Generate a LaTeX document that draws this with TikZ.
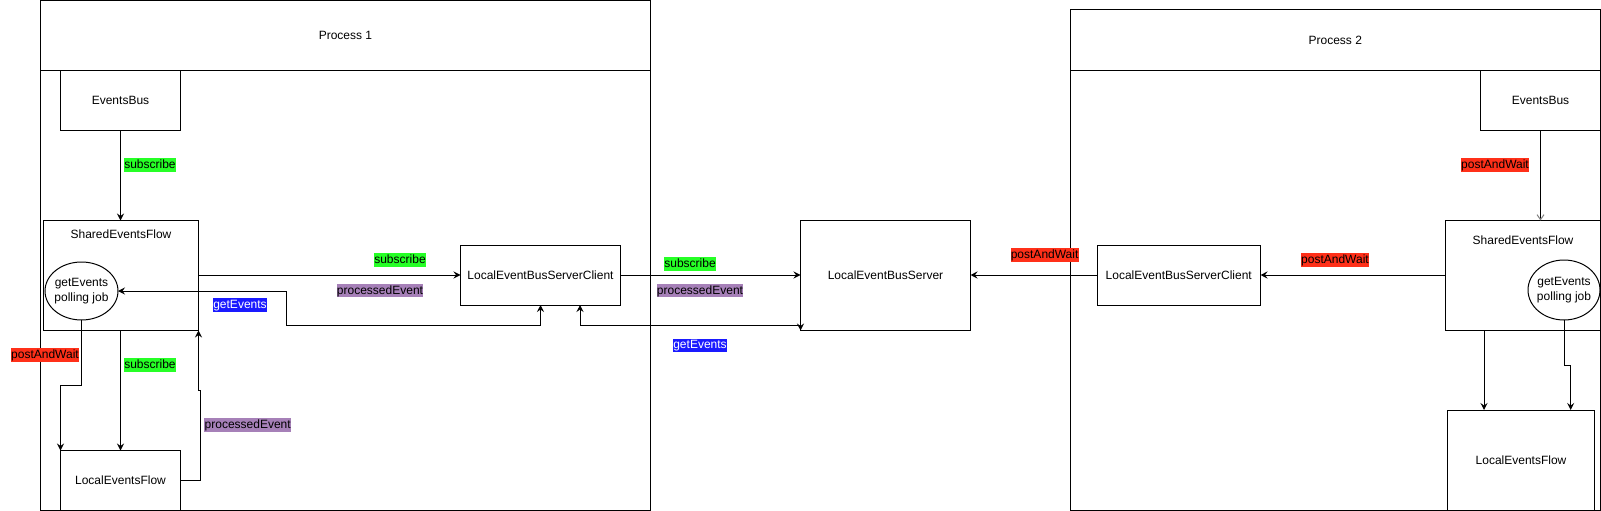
\documentclass[tikz,border=0pt]{standalone}
\usepackage{fontspec}
\setmainfont{Liberation Sans}
\usetikzlibrary{arrows.meta, positioning, shapes.geometric}

\definecolor{subgreen}{RGB}{38,255,38}
\definecolor{postred}{RGB}{255,48,25}
\definecolor{procpurple}{RGB}{166,128,184}
\definecolor{getblue}{RGB}{26,26,255}

\tikzset{
  box/.style={draw, line width=1pt, outer sep=0pt, inner sep=0pt, font=\fontsize{12}{14}\selectfont},
  jobtext/.style={align=center, inner sep=0pt, font=\fontsize{12}{15.5}\selectfont},
  lbl/.style={font=\fontsize{12}{14}\selectfont, inner xsep=0.3pt, inner ysep=0.5pt, text height=9.5pt, text depth=2.8pt},
  sub/.style={lbl, fill=subgreen},
  post/.style={lbl, fill=postred},
  proc/.style={lbl, fill=procpurple},
  get/.style={lbl, fill=getblue, text=white},
  conn/.style={line width=1pt, ->},
}

\begin{document}
\begin{tikzpicture}[x=1pt, y=-1pt, >={Stealth[length=7pt,width=7pt,inset=2.5pt]}]
\useasboundingbox (0,0) rectangle (1601,511);

% process 1
\node[box, minimum width=610pt, minimum height=70pt] (p1head) at (345.5,35.5) {Process 1};
\node[box, minimum width=610pt, minimum height=439.5pt, below=0pt of p1head] (p1body) {};

\node[box, minimum width=120pt, minimum height=60pt] (eb1) at (120.5,100.5) {EventsBus};
\node[box, minimum width=155pt, minimum height=110pt,
      label={[anchor=north, yshift=-6pt, font=\fontsize{12}{14}\selectfont]north:SharedEventsFlow}] (sef1) at (121,275.5) {};
\node[draw, ellipse, line width=1pt, outer sep=0pt, minimum width=73pt, minimum height=58pt] (job1) at (81.5,291) {};
\node[jobtext] (job1txt) at (job1) {getEvents\\polling job};
\node[box, minimum width=120pt, minimum height=59.5pt] (lef1) at (120.5,480.25) {LocalEventsFlow};
\node[box, minimum width=160pt, minimum height=60pt] (cl1) at (540.5,275) {LocalEventBusServerClient};

% server in the middle
\node[box, minimum width=170pt, minimum height=110pt] (srv) at (885.5,275.5) {LocalEventBusServer};

% process 2
\node[box, minimum width=529.5pt, minimum height=60.5pt] (p2head) at (1335.25,40.25) {Process 2};
\node[box, minimum width=529.5pt, minimum height=439.5pt, below=0pt of p2head] (p2body) {};

\node[box, minimum width=120pt, minimum height=60pt] (eb2) at (1540.5,100.5) {EventsBus};
\node[box, minimum width=155pt, minimum height=110pt,
      label={[anchor=north, yshift=-12pt, font=\fontsize{12}{14}\selectfont]north:SharedEventsFlow}] (sef2) at (1523,275.5) {};
\node[draw, ellipse, line width=1pt, outer sep=0pt, minimum width=72pt, minimum height=60pt] (job2) at (1564,290) {};
\node[jobtext] (job2txt) at (job2) {getEvents\\polling job};
\node[box, minimum width=147pt, minimum height=100pt] (lef2) at (1521,460) {LocalEventsFlow};
\node[box, minimum width=163.5pt, minimum height=60pt] (cl2) at (1178.75,275) {LocalEventBusServerClient};

% connectors, process 1
\draw[conn] (eb1.south) -- (eb1.south |- sef1.north);
\draw[conn] (sef1.south -| lef1.north) -- (lef1.north);
\draw[conn] (job1.south) -- ++(0,65) -| (lef1.north west);
\draw[conn] (lef1.east) -| ++(19.5,-89.3) -| (sef1.south east);
\draw[conn] (sef1.east |- cl1.west) -- (cl1.west);
\draw[conn, <->] (job1.east) -| ++(168,34) -| (cl1.south);

% connectors to and from the server
\draw[conn] (cl1.east) -- (srv.west |- cl1.east);
\draw[conn, <->] ([xshift=39.5pt]cl1.south) -- ++(0,20) -| (srv.south west);
\draw[conn] (cl2.west) -- (srv.east |- cl2.west);

% connectors, process 2
\draw[conn] (sef2.west |- cl2.east) -- (cl2.east);
\draw[line width=1pt, -{Straight Barb[length=5pt,width=7pt,gray]}] (eb2.south) -- (eb2.south |- sef2.north);
\draw[conn] ([xshift=36.5pt]lef2.north west |- sef2.south) -- ([xshift=36.5pt]lef2.north west);
\draw[conn] (job2.south) -- ++(0,45) -| ([xshift=123.2pt]lef2.north west);

% labels
\node[sub] (sub1) at (150,165) {subscribe};
\node[post] (post1) at (45,355) {postAndWait};
\node[sub] (sub2) at (150,365) {subscribe};
\node[proc] (proc1) at (247.7,425) {processedEvent};
\node[get] (get1) at (240,305) {getEvents};
\node[sub] (sub3) at (400,260) {subscribe};
\node[proc] (proc2) at (380,290.7) {processedEvent};
\node[sub] (sub4) at (690,264) {subscribe};
\node[proc] (proc3) at (700,290.7) {processedEvent};
\node[get] (get2) at (700,345.3) {getEvents};
\node[post] (post2) at (1044.6,255) {postAndWait};
\node[post] (post3) at (1335,260) {postAndWait};
\node[post] (post4) at (1495,165) {postAndWait};
\end{tikzpicture}
\end{document}
